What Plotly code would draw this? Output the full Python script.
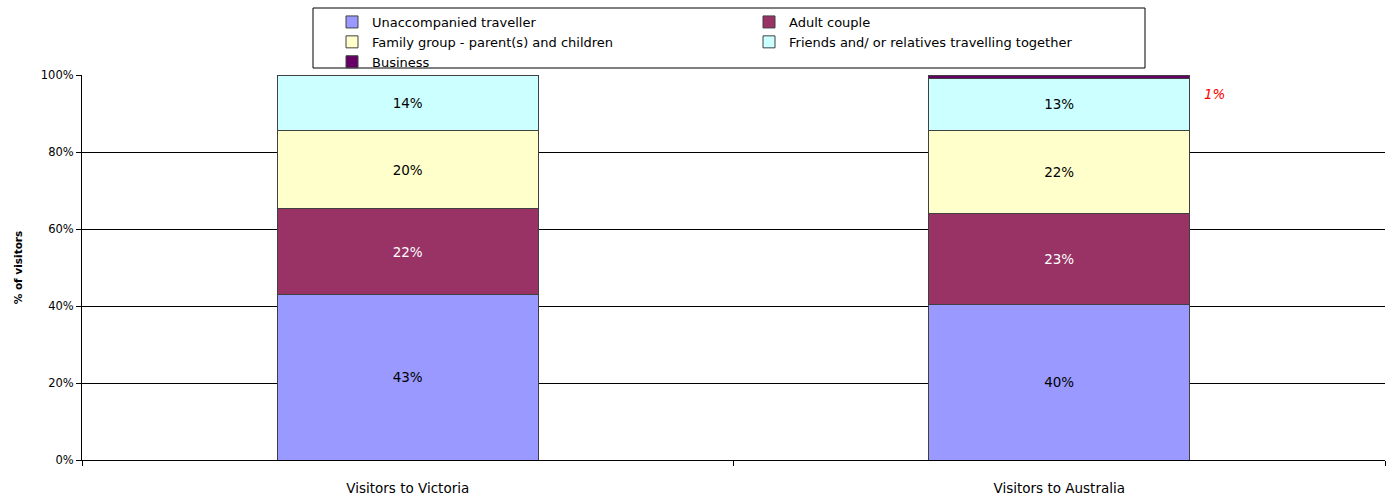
import plotly.graph_objects as go

categories = ["Visitors to Victoria", "Visitors to Australia"]
series_names = ["Unaccompanied traveller", "Adult couple",
                "Family group - parent(s) and children",
                "Friends and/ or relatives travelling together", "Business"]
unaccompanied = [42.9, 40.5]
adult_couple = [22.4, 23.4]
family_group = [20.3, 21.8]
friends_relatives = [14.4, 13.4]
business = [0.0, 0.9]
y_ticks = [0, 20, 40, 60, 80, 100]
y_tick_labels = ["0%", "20%", "40%", "60%", "80%", "100%"]

series_values = [unaccompanied, adult_couple, family_group, friends_relatives, business]
colors = ["#9999FF", "#993366", "#FFFFCC", "#CCFFFF", "#660066"]
text_colors = ["black", "white", "black", "black", "black"]
legend_ids = ["legend", "legend2", "legend", "legend2", "legend"]
FONT = "'DejaVu Sans', sans-serif"

fig = go.Figure()
for i, (name, vals) in enumerate(zip(series_names, series_values)):
    if name == "Business":
        texts = ["" for v in vals]
    else:
        texts = [f"{round(v)}%" for v in vals]
    fig.add_trace(go.Bar(
        x=categories, y=vals, name=name, legend=legend_ids[i],
        marker=dict(color=colors[i], line=dict(color="#404040", width=1)),
        text=texts, textposition="inside", insidetextanchor="middle",
        textangle=0, textfont=dict(color=text_colors[i], size=13.5, family=FONT),
        width=0.4, hoverinfo="skip",
    ))

# red label for the small Business share in the Australia column
aus_idx = 1
aus_top = sum(s[aus_idx] for s in series_values)
fig.add_annotation(
    x=categories[aus_idx], y=aus_top - business[aus_idx] / 2,
    text=f"<i>{round(business[aus_idx])}%</i>", showarrow=False,
    xshift=155, yshift=-17, font=dict(color="#FF0000", size=13.5, family=FONT),
)

# legend frame (pixel layout converted to paper coords: plot area x 82..1385, y 75..460)
PW, PH = 1303, 385
fig.add_shape(type="rect", xref="paper", yref="paper",
              x0=(313 - 82) / PW, x1=(1145 - 82) / PW,
              y0=(460 - 68) / PH, y1=(460 - 8) / PH,
              line=dict(color="black", width=1), fillcolor="white", layer="below")

leg_common = dict(
    orientation="v", yanchor="top", xanchor="left", y=(460 - 7) / PH,
    traceorder="normal", borderwidth=0, bgcolor="rgba(0,0,0,0)",
    font=dict(size=13, family=FONT), indentation=19, tracegroupgap=0,
    itemwidth=30,
)

fig.update_layout(
    barmode="stack",
    width=1390, height=497,
    margin=dict(l=82, r=5, t=75, b=37),
    paper_bgcolor="white", plot_bgcolor="white",
    font=dict(family=FONT, size=12, color="black"),
    bargap=0.6,
    showlegend=True,
    legend=dict(x=(313 - 82) / PW, **leg_common),
    legend2=dict(x=(730 - 82) / PW, **leg_common),
    xaxis=dict(
        type="category", showline=True, linecolor="black", linewidth=1,
        ticks="outside", tickson="boundaries", ticklen=5, tickcolor="black",
        tickfont=dict(size=13.5), ticklabelstandoff=16, showgrid=False,
        automargin=False,
    ),
    yaxis=dict(
        range=[0, 100], tickvals=y_ticks, ticktext=y_tick_labels,
        showline=True, linecolor="black", linewidth=1,
        ticks="outside", ticklen=5, tickcolor="black",
        showgrid=True, gridcolor="black", gridwidth=1,
        zeroline=False, tickfont=dict(size=11.5), automargin=False,
        title=dict(text="<b>% of visitors</b>", font=dict(size=10.5), standoff=16),
    ),
)

fig.write_html("out.html")
